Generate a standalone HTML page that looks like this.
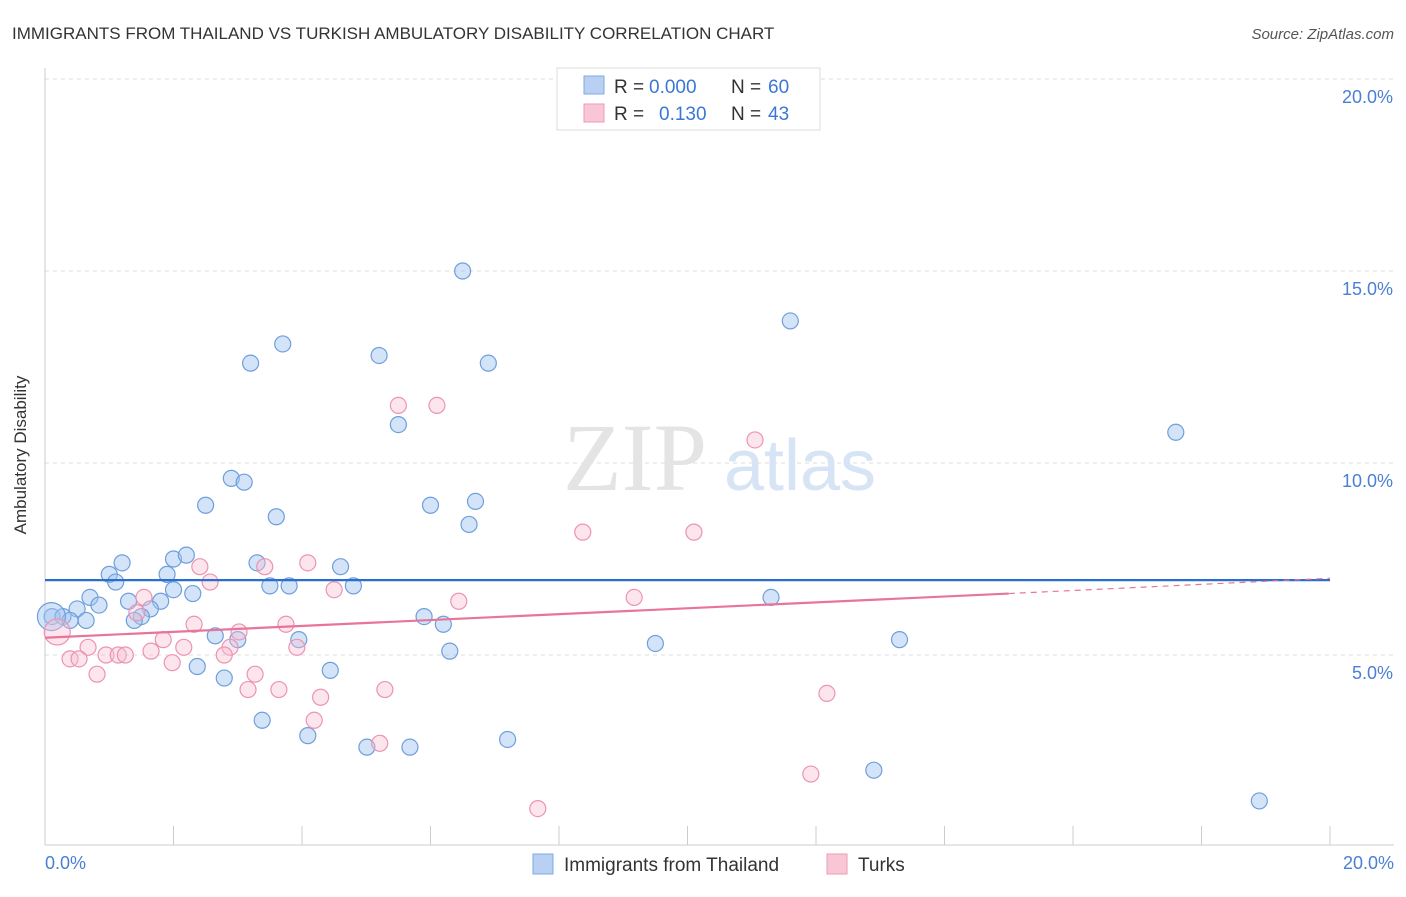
<!DOCTYPE html>
<html><head><meta charset="utf-8"><style>
body{margin:0;background:#fff;font-family:"Liberation Sans",sans-serif;}
</style></head><body>
<svg width="1406" height="892" xmlns="http://www.w3.org/2000/svg">
<text x="12" y="39" font-size="17" fill="#333">IMMIGRANTS FROM THAILAND VS TURKISH AMBULATORY DISABILITY CORRELATION CHART</text>
<text x="1394" y="39" font-size="15" fill="#555" text-anchor="end" font-style="italic">Source: ZipAtlas.com</text>
<g id="grid"></g>
<text x="635" y="490" font-size="96" fill="#e4e4e4" font-family="Liberation Serif" text-anchor="middle">ZIP</text>
<text x="800" y="490" font-size="72" fill="#d6e4f5" text-anchor="middle">atlas</text>
<g id="pts"></g>
<g id="lines"></g>
<text x="26" y="455" font-size="17" fill="#333" text-anchor="middle" transform="rotate(-90 26 455)">Ambulatory Disability</text>
<text x="45" y="869" font-size="18" fill="#4a7fd4">0.0%</text>
<text x="1394" y="869" font-size="18" fill="#4a7fd4" text-anchor="end">20.0%</text>
<g>
<rect x="557" y="68" width="263" height="62" fill="#fff" stroke="#ddd"/>
<rect x="584" y="76" width="20" height="18" fill="#b8d1f3" stroke="#7fa8e0"/>
<rect x="584" y="104" width="20" height="18" fill="#f9c6d6" stroke="#ee9ab6"/>
<text x="614" y="93" font-size="19" fill="#333">R =</text>
<text x="649" y="93" font-size="19" fill="#3a78d6">0.000</text>
<text x="731" y="93" font-size="19" fill="#333">N =</text>
<text x="768" y="93" font-size="19" fill="#3a78d6">60</text>
<text x="614" y="120" font-size="19" fill="#333">R =</text>
<text x="659" y="120" font-size="19" fill="#3a78d6">0.130</text>
<text x="731" y="120" font-size="19" fill="#333">N =</text>
<text x="768" y="120" font-size="19" fill="#3a78d6">43</text>
</g>
<g>
<rect x="533" y="854" width="20" height="20" fill="#b8d1f3" stroke="#7fa8e0"/>
<text x="564" y="871" font-size="19" fill="#333">Immigrants from Thailand</text>
<rect x="827" y="854" width="20" height="20" fill="#f9c6d6" stroke="#ee9ab6"/>
<text x="858" y="871" font-size="19" fill="#333">Turks</text>
</g>
</svg>
<script>
const yTicks=[5,10,15,20];
const blueX=[6.5,11.6,3.7,3.2,5.2,6.9,5.5,17.6,2.9,3.1,2.5,6.0,6.7,3.6,6.6,1.2,2.0,2.2,3.3,4.6,1.0,1.1,1.9,3.5,3.8,4.8,2.0,2.3,0.7,1.3,1.8,11.3,0.84,1.64,0.5,1.5,5.9,0.11,0.28,0.39,0.64,1.39,6.2,2.65,3.0,3.95,9.5,13.3,6.3,2.37,4.44,2.79,3.38,4.09,5.68,5.01,7.2,12.9,18.9,0.1];
const blueY=[15.0,13.7,13.1,12.6,12.8,12.6,11.0,10.8,9.6,9.5,8.9,8.9,9.0,8.6,8.4,7.4,7.5,7.6,7.4,7.3,7.1,6.9,7.1,6.8,6.8,6.8,6.7,6.6,6.5,6.4,6.4,6.5,6.3,6.2,6.2,6.0,6.0,6.0,6.0,5.9,5.9,5.9,5.8,5.5,5.4,5.4,5.3,5.4,5.1,4.7,4.6,4.4,3.3,2.9,2.6,2.6,2.8,2.0,1.2,6.0];
const blueR=[8,8,8,8,8,8,8,8,8,8,8,8,8,8,8,8,8,8,8,8,8,8,8,8,8,8,8,8,8,8,8,8,8,8,8,8,8,8,8,8,8,8,8,8,8,8,8,8,8,8,8,8,8,8,8,8,8,8,8,14];
const pinkX=[5.5,6.1,11.05,8.37,10.1,4.09,2.41,3.42,2.57,4.5,1.54,6.44,9.17,2.32,3.75,1.43,3.02,1.84,0.67,2.16,3.92,2.88,0.95,1.14,1.25,1.65,2.79,0.39,0.53,1.98,0.81,3.27,3.16,3.64,5.29,12.17,4.29,4.19,5.21,11.92,7.67,0.19];
const pinkY=[11.5,11.5,10.6,8.2,8.2,7.4,7.3,7.3,6.9,6.7,6.5,6.4,6.5,5.8,5.8,6.1,5.6,5.4,5.2,5.2,5.2,5.2,5.0,5.0,5.0,5.1,5.0,4.9,4.9,4.8,4.5,4.5,4.1,4.1,4.1,4.0,3.9,3.3,2.7,1.9,1.0,5.6];
const pinkR=[8,8,8,8,8,8,8,8,8,8,8,8,8,8,8,8,8,8,8,8,8,8,8,8,8,8,8,8,8,8,8,8,8,8,8,8,8,8,8,8,8,13];
const blueTrend=[6.95,6.95];
const pinkTrend=[5.45,6.6,7.0];
const NS="http://www.w3.org/2000/svg";
const X0=45,X1=1330,Y0=847,Y1=79;
const sx=v=>X0+(v/20)*(X1-X0);
const sy=v=>Y0-(v/20)*(Y0-Y1);
function mk(t,a,p){const e=document.createElementNS(NS,t);for(const k in a)e.setAttribute(k,a[k]);p.appendChild(e);return e;}
const grid=document.getElementById('grid');
yTicks.forEach(t=>{
 const l=mk('line',{x1:X0,x2:1394,y1:sy(t),y2:sy(t),stroke:'#ddd','stroke-dasharray':'4,4'},grid);
 
 
 const tx=mk('text',{x:1393,y:sy(t)+24,'font-size':18,fill:'#4a7fd4','text-anchor':'end'},grid);
 tx.textContent=t.toFixed(1)+'%';
 
 
});
const ax=mk('line',{x1:X0,x2:1394,y1:845,y2:845,stroke:'#ccc'},grid);


const ay=mk('line',{x1:X0,x2:X0,y1:68,y2:845,stroke:'#ccc'},grid);


for(let i=0;i<=10;i++){const t=mk('line',{x1:sx(i*2),x2:sx(i*2),y1:826,y2:845,stroke:'#ccc'},grid);
 
 }
const pts=document.getElementById('pts');
blueX.forEach((v,i)=>{const c=mk('circle',{cx:sx(v),cy:sy(blueY[i]),r:blueR[i],fill:'rgba(160,195,240,0.45)',stroke:'#6f9edc','stroke-width':1.2},pts);
 
 });
pinkX.forEach((v,i)=>{const c=mk('circle',{cx:sx(v),cy:sy(pinkY[i]),r:pinkR[i],fill:'rgba(248,190,210,0.4)',stroke:'#ec93b3','stroke-width':1.2},pts);
 
 });
const lines=document.getElementById('lines');
const bl=mk('line',{x1:sx(0),x2:sx(20),y1:sy(blueTrend[0]),y2:sy(blueTrend[1]),stroke:'#2a6fcc','stroke-width':2.2},lines);


const pl=mk('line',{x1:sx(0),x2:sx(15),y1:sy(pinkTrend[0]),y2:sy(pinkTrend[1]),stroke:'#e8749c','stroke-width':2.2},lines);


const pd=mk('line',{x1:sx(15),x2:sx(20),y1:sy(pinkTrend[1]),y2:sy(pinkTrend[2]),stroke:'#e8749c','stroke-width':1.2,'stroke-dasharray':'6,5'},lines);


</script>
</body></html>
